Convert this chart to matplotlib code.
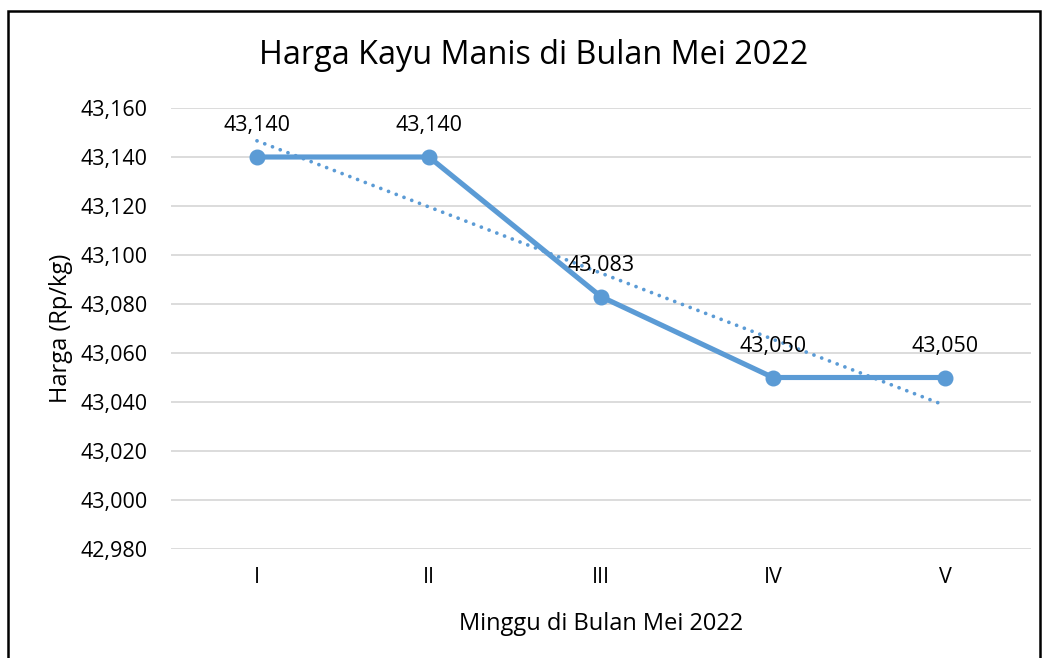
import numpy as np
import matplotlib.pyplot as plt
from matplotlib import ticker
from matplotlib.patches import Rectangle

plt.rcParams['font.family'] = ['Open Sans', 'DejaVu Sans']

# Data
weeks = ['I', 'II', 'III', 'IV', 'V']
prices = [43140, 43140, 43083, 43050, 43050]

BLUE = '#5B9BD5'
W, H = 1048, 658

fig = plt.figure(figsize=(W / 100, H / 100), dpi=100)
ax = fig.add_axes([171 / W, 1 - 549 / H, (1031 - 171) / W, (549 - 108) / H])

x = np.arange(1, len(weeks) + 1)

# linear trendline
k, b = np.polyfit(x, prices, 1)
ax.plot(x, k * x + b, color=BLUE, linestyle=(0, (0.01, 2.2)), linewidth=2.7,
        dash_capstyle='round', zorder=2)

ax.plot(x, prices, color=BLUE, linewidth=3.7, marker='o', markersize=10.5,
        zorder=3)

for xi, yi in zip(x, prices):
    ax.annotate(f'{yi:,}', (xi, yi), xytext=(0, 31), textcoords='offset pixels',
                ha='center', va='center', fontsize=15.5, color='#000000')

ax.set_xlim(0.5, len(weeks) + 0.5)
ax.set_ylim(42980, 43160)
ax.yaxis.set_major_locator(ticker.MultipleLocator(20))
ax.yaxis.set_major_formatter(ticker.FuncFormatter(lambda v, p: f'{int(v):,}'))
ax.set_xticks(x)
ax.set_xticklabels(weeks)

ax.grid(axis='y', color='#D9D9D9', linewidth=1.3)
ax.set_axisbelow(True)
for s in ax.spines.values():
    s.set_visible(False)
ax.tick_params(length=0, labelsize=15.5, colors='#000000')
ax.tick_params(axis='y', pad=17)
ax.tick_params(axis='x', pad=13)

ax.set_xlabel('Minggu di Bulan Mei 2022', fontsize=17, labelpad=17)
ax.set_ylabel('Harga (Rp/kg)', fontsize=17, labelpad=5)
fig.text(534 / W, 1 - 55 / H, 'Harga Kayu Manis di Bulan Mei 2022',
         ha='center', va='center', fontsize=23.3)

# outer border
fig.patches.append(Rectangle((8 / W, -0.02), (1040 - 8) / W, 1 - 11 / H + 0.02,
                             transform=fig.transFigure, fill=False,
                             edgecolor='#000000', linewidth=1.8))

fig.savefig('out.png', dpi=100)
